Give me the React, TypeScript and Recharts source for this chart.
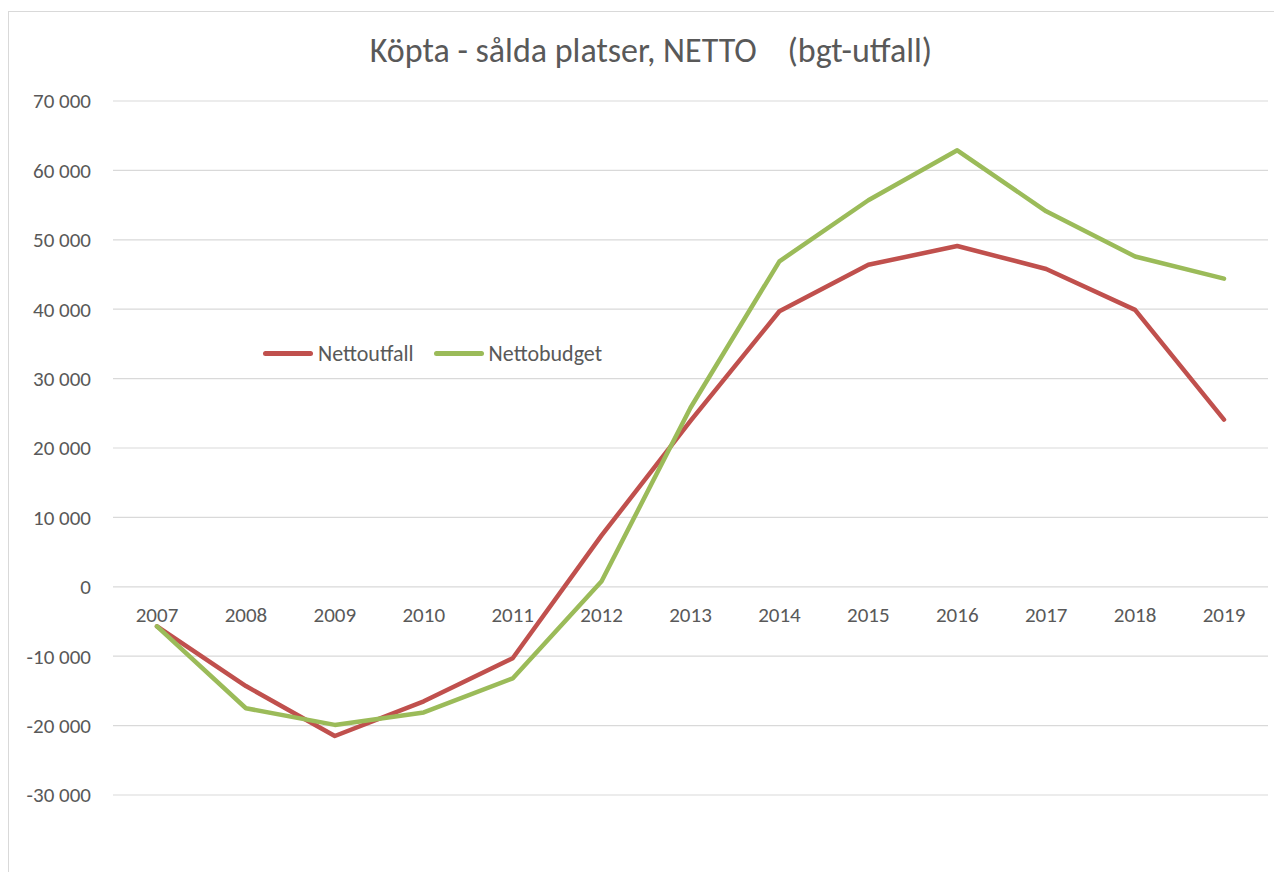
import { LineChart, Line, XAxis, YAxis, CartesianGrid, Legend, LabelList } from "recharts";

const years = ["2007", "2008", "2009", "2010", "2011", "2012", "2013", "2014", "2015", "2016", "2017", "2018", "2019"];
const nettoutfall = [-5700, -14300, -21500, -16500, -10300, 7400, 23900, 39700, 46400, 49100, 45800, 39900, 24100];
const nettobudget = [-5700, -17500, -19900, -18100, -13200, 800, 25800, 46900, 55700, 62900, 54100, 47600, 44400];
const seriesNames = ["Nettoutfall", "Nettobudget"];
const yTicks = [-30000, -20000, -10000, 0, 10000, 20000, 30000, 40000, 50000, 60000, 70000];

const data = years.map((year, i) => ({
  year,
  Nettoutfall: nettoutfall[i],
  Nettobudget: nettobudget[i],
}));

const FONT = "Carlito, Lato, 'Open Sans', sans-serif";
const TEXT = "#595959";

const fmt = (v: number) => {
  const s = Math.abs(v).toString().replace(/\B(?=(\d{3})+(?!\d))/g, " ");
  return v < 0 ? "-" + s : s;
};

const renderLegend = (props: any) => {
  const items = (props.payload || [])
    .filter((p: any) => seriesNames.includes(p.value))
    .sort((a: any, b: any) => seriesNames.indexOf(a.value) - seriesNames.indexOf(b.value));
  return (
    <div style={{ display: "flex", alignItems: "center", fontFamily: FONT, fontSize: 22, color: TEXT }}>
      {items.map((p: any) => (
        <div key={p.value} style={{ display: "flex", alignItems: "center", marginRight: 20 }}>
          <span style={{ display: "inline-block", width: 50, height: 5, borderRadius: 3, background: p.color, marginRight: 5 }} />
          <span>{p.value}</span>
        </div>
      ))}
    </div>
  );
};

export default function App() {
  return (
    <div style={{ position: "relative", width: 1274, height: 864, overflow: "hidden", background: "#fff" }}>
      <div
        style={{
          position: "absolute",
          left: 0,
          top: 3,
          width: 1272,
          height: 870,
          border: "1px solid #d9d9d9",
          boxSizing: "border-box",
        }}
      />
      <div
        style={{
          position: "absolute",
          left: 0,
          width: 1286,
          top: 22,
          textAlign: "center",
          fontFamily: FONT,
          fontSize: 34,
          color: TEXT,
          whiteSpace: "pre",
        }}
      >
        {"Köpta - sålda platser, NETTO    (bgt-utfall)"}
      </div>
      <div style={{ position: "absolute", left: 0, top: 0 }}>
        <LineChart width={1274} height={864} data={data} margin={{ top: 93, right: 14, bottom: 77, left: 0 }}>
          <CartesianGrid vertical={false} stroke="#d9d9d9" strokeWidth={1.2} />
          <XAxis dataKey="year" hide padding={{ left: 44, right: 44 }} />
          <YAxis
            width={105}
            domain={[-30000, 70000]}
            ticks={yTicks}
            tickFormatter={fmt}
            axisLine={false}
            tickLine={false}
            tickSize={0}
            tickMargin={22}
            tick={{ fill: TEXT, fontSize: 21, fontFamily: FONT }}
            interval={0}
          />
          <Legend
            content={renderLegend}
            layout="horizontal"
            verticalAlign="middle"
            align="center"
            wrapperStyle={{ position: "absolute", left: 255, top: 332, width: "auto" }}
          />
          <Line
            dataKey={() => 0}
            name="axis"
            stroke="none"
            dot={false}
            legendType="none"
            isAnimationActive={false}
          >
            <LabelList dataKey="year" position="bottom" offset={20} fill={TEXT} fontSize={21} fontFamily={FONT} />
          </Line>
          <Line
            dataKey="Nettoutfall"
            stroke="#c0504d"
            strokeWidth={4.5}
            strokeLinecap="round"
            strokeLinejoin="round"
            dot={false}
            isAnimationActive={false}
          />
          <Line
            dataKey="Nettobudget"
            stroke="#9bbb59"
            strokeWidth={4.5}
            strokeLinecap="round"
            strokeLinejoin="round"
            dot={false}
            isAnimationActive={false}
          />
        </LineChart>
      </div>
    </div>
  );
}
